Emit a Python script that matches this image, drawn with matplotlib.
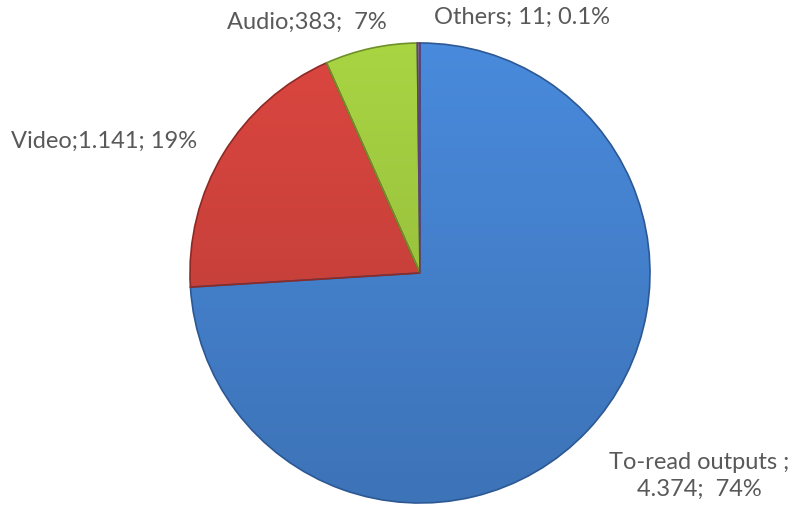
import matplotlib
matplotlib.use("Agg")
import matplotlib.pyplot as plt
import matplotlib.colors as mcolors
import numpy as np

# slice data, in clockwise order starting at 12 o'clock
categories = ["To-read outputs", "Video", "Audio", "Others"]
values = [4374, 1141, 383, 11]
value_labels = ["4.374", "1.141", "383", "11"]
pct_labels = ["74%", "19%", "7%", "0.1%"]

colors = ["#4480cc", "#cb413b", "#9cc53e", "#7f60a8"]
edge_colors = ["#2c5894", "#8e2a25", "#6f8f28", "#5a437a"]

W, H = 796, 507
fig = plt.figure(figsize=(W / 100, H / 100), dpi=100)
ax = fig.add_axes([0, 0, 1, 1])

cx, cy, r = 420, H - 273, 230

wedges, _ = ax.pie(values, colors=colors, startangle=90, counterclock=False,
                   center=(cx, cy), radius=r, frame=True,
                   wedgeprops=dict(linewidth=1.2))

# soft top-to-bottom shading on each slice, like the office bevel look
shade = np.linspace(1.08, 0.9, 200)[:, None]
for w, c, ec in zip(wedges, colors, edge_colors):
    rgb = np.array(mcolors.to_rgb(c))
    img = np.clip(shade[:, :, None] * rgb[None, None, :], 0, 1)
    img = np.repeat(img, 2, axis=1)
    im = ax.imshow(img, extent=(cx - r, cx + r, cy - r, cy + r),
                   origin="upper", aspect="auto", zorder=2)
    im.set_clip_path(w)
    w.set_facecolor("none")
    w.set_edgecolor(ec)
    w.set_zorder(3)

# labels sit outside the pie, positions (pixels from top)
label_text = [
    "To-read outputs ;\n4.374;  74%",
    "Video;1.141; 19%",
    "Audio;383;  7%",
    "Others; 11; 0.1%",
]
label_pos = [(699, 476), (104, 141), (307, 22), (522, 17)]

for txt, (x, y) in zip(label_text, label_pos):
    ax.text(x, H - y, txt, ha="center", va="center", fontsize=17,
            family="Lato", color="#595959", linespacing=1.35)

ax.set_xlim(0, W)
ax.set_ylim(0, H)
ax.set_aspect("equal")
ax.axis("off")
fig.savefig("out.png", dpi=100)
